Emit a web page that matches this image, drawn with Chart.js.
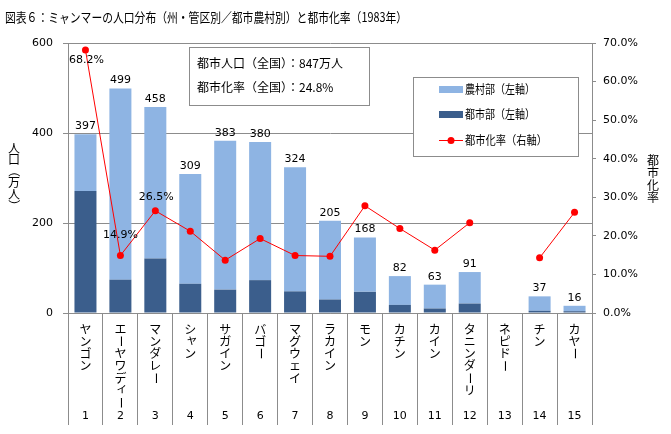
<!DOCTYPE html>
<html>
<head>
<meta charset="utf-8">
<script src="https://cdn.jsdelivr.net/npm/chart.js@4/dist/chart.umd.min.js"></script>
<style>
  html, body { margin: 0; padding: 0; background: #fff; }
</style>
</head>
<body>
<canvas id="popChart" width="671" height="434"></canvas>
<script>
// data
const categories = ['ヤンゴン', 'エーヤワディー', 'マンダレー', 'シャン', 'サガイン', 'バゴー', 'マグウェイ',
  'ラカイン', 'モン', 'カチン', 'カイン', 'タニンダーリ', 'ネピドー', 'チン', 'カヤー'];
const categoryNos = ['1', '2', '3', '4', '5', '6', '7', '8', '9', '10', '11', '12', '13', '14', '15'];
const totalPop = [397, 499, 458, 309, 383, 380, 324, 205, 168, 82, 63, 91, null, 37, 16];
const urbanPop = [271, 74, 121, 65, 52, 73, 48, 30, 47, 18, 10, 21, null, 5, 4];
const ruralPop = [126, 425, 337, 244, 331, 307, 276, 175, 121, 64, 53, 70, null, 32, 12];
const urbanRate = [68.2, 14.9, 26.5, 21.2, 13.7, 19.3, 14.9, 14.7, 27.8, 21.9, 16.3, 23.4, null, 14.3, 26.1];
const leftTicks = [0, 200, 400, 600];
const rightTicks = [0, 10, 20, 30, 40, 50, 60, 70];

const titleText = '図表６：ミャンマーの人口分布（州・管区別／都市農村別）と都市化率（1983年）';
const infoLines = ['都市人口（全国）：847万人', '都市化率（全国）：24.8%'];
const legendItems = ['農村部（左軸）', '都市部（左軸）', '都市化率（右軸）'];

const RURAL = '#8EB4E3';
const URBAN = '#3B5E8C';
const RED = '#FF0000';
const GRID = '#8C8C8C';
const JP = "'Noto Sans CJK JP', sans-serif";
const NUM = "'DejaVu Sans', 'Noto Sans CJK JP', sans-serif";

// write text top-to-bottom, one char at a time
function drawVertical(ctx, text, x, y, step) {
  for (const ch of text) {
    ctx.save();
    ctx.translate(x, y);
    if ('ー（）'.includes(ch)) ctx.rotate(Math.PI / 2);
    if ('ャィッ'.includes(ch)) ctx.translate(1.5, -2);
    ctx.fillText(ch, 0, 0);
    ctx.restore();
    y += step;
  }
}

const decorPlugin = {
  id: 'decor',
  afterDraw(chart) {
    const ctx = chart.ctx;
    const xs = chart.scales.x;
    ctx.save();
    ctx.fillStyle = '#000';

    // title
    ctx.font = '13px ' + JP;
    ctx.textAlign = 'left';
    ctx.textBaseline = 'middle';
    ctx.fillText(titleText, 5, 17, 402);

    // category names (vertical) and numbers
    ctx.font = '12px ' + JP;
    ctx.textAlign = 'center';
    categories.forEach((name, i) => {
      const x = xs.getPixelForValue(i);
      drawVertical(ctx, name, x, 329, 12.3);
      ctx.font = '11px ' + NUM;
      ctx.fillText(categoryNos[i], x, 416);
      ctx.font = '12px ' + JP;
    });

    // axis titles
    drawVertical(ctx, '人口（万人）', 14, 148, 11.5);
    drawVertical(ctx, '都市化率', 653, 160, 12.5);

    // totals above bars
    ctx.font = '11px ' + NUM;
    ctx.textBaseline = 'middle';
    const ruralMeta = chart.getDatasetMeta(1);
    totalPop.forEach((v, i) => {
      if (v == null) return;
      const bar = ruralMeta.data[i];
      ctx.fillText(String(v), bar.x, bar.y - 8);
    });

    // rate labels for first three points
    const lineMeta = chart.getDatasetMeta(2);
    const offs = [[1, 10], [0, -20], [1, -14]];
    offs.forEach((o, i) => {
      const p = lineMeta.data[i];
      ctx.fillText(urbanRate[i].toFixed(1) + '%', p.x + o[0], p.y + o[1]);
    });

    // info box
    ctx.fillStyle = '#fff';
    ctx.fillRect(189, 47, 180, 58);
    ctx.strokeStyle = GRID;
    ctx.lineWidth = 1;
    ctx.strokeRect(189.5, 47.5, 180, 58);
    ctx.fillStyle = '#000';
    ctx.font = '12px ' + JP;
    ctx.textAlign = 'left';
    ctx.fillText(infoLines[0], 197, 63, 153);
    ctx.fillText(infoLines[1], 197, 87, 150);

    // legend
    ctx.fillStyle = '#fff';
    ctx.fillRect(413, 77, 165, 79);
    ctx.strokeRect(413.5, 77.5, 165, 79);
    const rowY = [89, 114, 140];
    ctx.fillStyle = RURAL;
    ctx.fillRect(439, rowY[0] - 3, 24, 7);
    ctx.fillStyle = URBAN;
    ctx.fillRect(439, rowY[1] - 3, 24, 7);
    ctx.strokeStyle = RED;
    ctx.beginPath();
    ctx.moveTo(439, rowY[2] + 0.5);
    ctx.lineTo(463, rowY[2] + 0.5);
    ctx.stroke();
    ctx.fillStyle = RED;
    ctx.beginPath();
    ctx.arc(451, rowY[2] + 0.5, 3.5, 0, Math.PI * 2);
    ctx.fill();
    ctx.fillStyle = '#000';
    ctx.fillText(legendItems[0], 465, rowY[0], 70);
    ctx.fillText(legendItems[1], 465, rowY[1], 70);
    ctx.fillText(legendItems[2], 465, rowY[2], 82);
    ctx.restore();
  }
};

const ctx = document.getElementById('popChart').getContext('2d');
const popChart = new Chart(ctx, {
  type: 'bar',
  data: {
    labels: categories,
    datasets: [
      {
        label: '都市部（左軸）',
        data: urbanPop,
        backgroundColor: URBAN,
        categoryPercentage: 1,
        barPercentage: 0.63,
        yAxisID: 'y',
        order: 2
      },
      {
        label: '農村部（左軸）',
        data: ruralPop,
        backgroundColor: RURAL,
        categoryPercentage: 1,
        barPercentage: 0.63,
        yAxisID: 'y',
        order: 2
      },
      {
        type: 'line',
        label: '都市化率（右軸）',
        data: urbanRate,
        borderColor: RED,
        borderWidth: 1,
        backgroundColor: RED,
        pointRadius: 3.5,
        pointBorderWidth: 0,
        pointBackgroundColor: RED,
        spanGaps: false,
        yAxisID: 'y2',
        order: 1
      }
    ]
  },
  options: {
    responsive: false,
    animation: false,
    layout: { padding: { top: 43, left: 0, right: 0, bottom: 0 } },
    plugins: {
      legend: { display: false },
      title: { display: false },
      tooltip: { enabled: false }
    },
    scales: {
      x: {
        stacked: true,
        offset: true,
        ticks: { display: false },
        grid: { offset: true, drawOnChartArea: false, tickLength: 112, color: GRID },
        border: { color: GRID },
        afterFit: s => { s.height = 121; }
      },
      y: {
        stacked: true,
        position: 'left',
        min: 0,
        max: 600,
        afterBuildTicks: s => { s.ticks = leftTicks.map(v => ({ value: v })); },
        ticks: { color: '#000', padding: 10, font: { family: NUM, size: 11 } },
        grid: { color: GRID, tickLength: 5 },
        border: { color: GRID },
        afterFit: s => { s.width = 68; }
      },
      y2: {
        position: 'right',
        min: 0,
        max: 70,
        afterBuildTicks: s => { s.ticks = rightTicks.map(v => ({ value: v })); },
        ticks: {
          color: '#000', padding: 7, font: { family: NUM, size: 11 },
          callback: v => v.toFixed(1) + '%'
        },
        grid: { drawOnChartArea: false, color: GRID, tickLength: 4 },
        border: { color: GRID },
        afterFit: s => { s.width = 79; }
      }
    }
  },
  plugins: [decorPlugin]
});
</script>
</body>
</html>
